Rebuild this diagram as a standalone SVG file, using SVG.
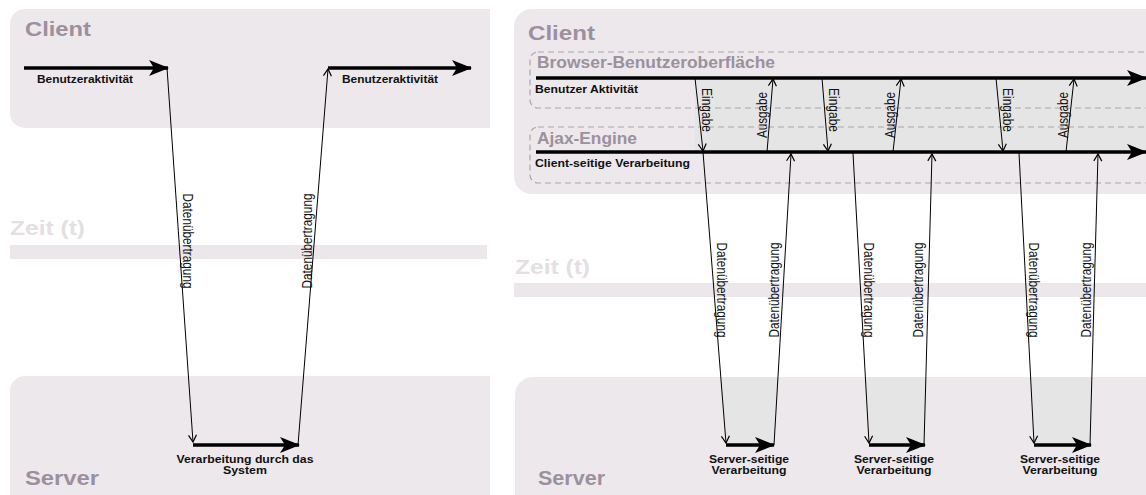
<svg xmlns="http://www.w3.org/2000/svg" width="1146" height="495" viewBox="0 0 1146 495">
<style>
.box{fill:#ece8ec}
.band{fill:#ebe7eb}
text{font-family:"Liberation Sans",Arial,sans-serif}
.hdr{font-weight:bold;font-size:21px;fill:#9b919d}
.sub{font-weight:bold;font-size:16px;fill:#9b919d}
.zeit{font-weight:bold;font-size:21px;fill:#e3dfe3}
.lbl{font-weight:bold;font-size:11.5px;fill:#111}
.rot{font-size:14px;fill:#111}
.dash{fill:none;stroke:#aaa6aa;stroke-width:1.2;stroke-dasharray:6 4}
.thick{stroke:#000;stroke-width:3.5;fill:none}
.thin{stroke:#000;stroke-width:1;fill:none}
.shade{fill:#e6e5e6}
</style>
<defs>
<marker id="big" markerUnits="userSpaceOnUse" markerWidth="20" markerHeight="16" refX="19" refY="8" orient="auto">
<path d="M0,0 L20,8 L0,16 L5,8 z" fill="#000"/>
</marker>
<marker id="sm" markerUnits="userSpaceOnUse" markerWidth="10" markerHeight="10" refX="8" refY="5" orient="auto">
<path d="M1,1 L8,5 L1,9" fill="none" stroke="#000" stroke-width="1.2"/>
</marker>
</defs>

<rect width="1146" height="495" fill="#fff"/>

<!-- Left panel -->
<g id="left-client">
<path class="box" d="M25,9 H490 V128 H25 A15,15 0 0 1 10,113 V24 A15,15 0 0 1 25,9 Z"/>
<text class="hdr" x="25" y="36" textLength="66" lengthAdjust="spacingAndGlyphs">Client</text>
<text class="lbl" x="37" y="83" textLength="96" lengthAdjust="spacingAndGlyphs">Benutzeraktivität</text>
<text class="lbl" x="342" y="83" textLength="96" lengthAdjust="spacingAndGlyphs">Benutzeraktivität</text>
</g>
<g id="left-time">
<rect class="band" x="10" y="245" width="477" height="14"/>
<text class="zeit" x="10" y="235" textLength="75" lengthAdjust="spacingAndGlyphs">Zeit (t)</text>
</g>
<g id="left-server">
<path class="box" d="M25,376 H490 V495 H10 V391 A15,15 0 0 1 25,376 Z"/>
<text class="hdr" x="25" y="485" textLength="74" lengthAdjust="spacingAndGlyphs">Server</text>
<text class="lbl" x="245" y="463" text-anchor="middle" textLength="137" lengthAdjust="spacingAndGlyphs">Verarbeitung durch das</text>
<text class="lbl" x="245" y="474" text-anchor="middle" textLength="44" lengthAdjust="spacingAndGlyphs">System</text>
</g>

<!-- Right panel -->
<g id="right-client">
<path class="box" d="M532,9 H1146 V194 H532 A18,18 0 0 1 514,176 V27 A18,18 0 0 1 532,9 Z"/>
<text class="hdr" x="528" y="40" textLength="67" lengthAdjust="spacingAndGlyphs">Client</text>
<rect class="shade" x="695" y="78" width="451" height="74"/>
</g>
<g id="browser-ui">
<rect class="dash" x="530" y="52" width="640" height="56" rx="8"/>
<text class="sub" x="537" y="68" textLength="238" lengthAdjust="spacingAndGlyphs">Browser-Benutzeroberfläche</text>
<text class="lbl" x="535" y="93" textLength="103" lengthAdjust="spacingAndGlyphs">Benutzer Aktivität</text>
</g>
<g id="ajax-engine">
<rect class="dash" x="530" y="127" width="640" height="56" rx="8"/>
<text class="sub" x="537" y="144" textLength="100" lengthAdjust="spacingAndGlyphs">Ajax-Engine</text>
<text class="lbl" x="535" y="167" textLength="155" lengthAdjust="spacingAndGlyphs">Client-seitige Verarbeitung</text>
</g>
<g id="right-time">
<rect class="band" x="514" y="283" width="632" height="14"/>
<text class="zeit" x="515" y="274" textLength="75" lengthAdjust="spacingAndGlyphs">Zeit (t)</text>
</g>
<g id="right-server">
<path class="box" d="M533,377 H1146 V495 H515 V395 A18,18 0 0 1 533,377 Z"/>
<polygon class="shade" points="721,377 778,377 774,445 726,445"/>
<polygon class="shade" points="865,377 926,377 924,445 869,445"/>
<polygon class="shade" points="1031,377 1092,377 1090,445 1034,445"/>
<text class="hdr" x="538" y="485" textLength="67" lengthAdjust="spacingAndGlyphs">Server</text>
<text class="lbl" x="749" y="463" text-anchor="middle" textLength="80" lengthAdjust="spacingAndGlyphs">Server-seitige</text>
<text class="lbl" x="749" y="474" text-anchor="middle" textLength="75" lengthAdjust="spacingAndGlyphs">Verarbeitung</text>
<text class="lbl" x="894" y="463" text-anchor="middle" textLength="80" lengthAdjust="spacingAndGlyphs">Server-seitige</text>
<text class="lbl" x="894" y="474" text-anchor="middle" textLength="75" lengthAdjust="spacingAndGlyphs">Verarbeitung</text>
<text class="lbl" x="1060" y="463" text-anchor="middle" textLength="80" lengthAdjust="spacingAndGlyphs">Server-seitige</text>
<text class="lbl" x="1060" y="474" text-anchor="middle" textLength="75" lengthAdjust="spacingAndGlyphs">Verarbeitung</text>
</g>

<g id="connectors">
<line class="thick" x1="24" y1="68" x2="168" y2="68" marker-end="url(#big)"/>
<line class="thin" x1="167" y1="68" x2="193" y2="442" marker-end="url(#sm)"/>
<line class="thick" x1="193" y1="445" x2="299" y2="445" stroke-width="4" marker-end="url(#big)"/>
<line class="thin" x1="298" y1="445" x2="328" y2="69" marker-end="url(#sm)"/>
<line class="thick" x1="328" y1="68" x2="471" y2="68" marker-end="url(#big)"/>
<line class="thick" x1="536" y1="78" x2="1146" y2="78" marker-end="url(#big)"/>
<line class="thick" x1="536" y1="152" x2="1146" y2="152" marker-end="url(#big)"/>
<line class="thin" x1="695" y1="78" x2="703" y2="151" marker-end="url(#sm)"/>
<line class="thin" x1="767" y1="152" x2="773" y2="79" marker-end="url(#sm)"/>
<line class="thin" x1="822" y1="78" x2="828" y2="151" marker-end="url(#sm)"/>
<line class="thin" x1="893" y1="152" x2="901" y2="79" marker-end="url(#sm)"/>
<line class="thin" x1="996" y1="78" x2="1003" y2="151" marker-end="url(#sm)"/>
<line class="thin" x1="1066" y1="152" x2="1074" y2="79" marker-end="url(#sm)"/>
<line class="thin" x1="703" y1="152" x2="726" y2="443" marker-end="url(#sm)"/>
<line class="thin" x1="774" y1="445" x2="791" y2="154" marker-end="url(#sm)"/>
<line class="thin" x1="853" y1="153" x2="869" y2="443" marker-end="url(#sm)"/>
<line class="thin" x1="924" y1="445" x2="932" y2="154" marker-end="url(#sm)"/>
<line class="thin" x1="1019" y1="153" x2="1034" y2="443" marker-end="url(#sm)"/>
<line class="thin" x1="1090" y1="445" x2="1098" y2="154" marker-end="url(#sm)"/>
<line class="thick" x1="726" y1="445" x2="774" y2="445" stroke-width="4" marker-end="url(#big)"/>
<line class="thick" x1="869" y1="445" x2="925" y2="445" stroke-width="4" marker-end="url(#big)"/>
<line class="thick" x1="1034" y1="445" x2="1091" y2="445" stroke-width="4" marker-end="url(#big)"/>
</g>

<g id="connector-labels">
<text class="rot" transform="translate(183,241) rotate(90)" text-anchor="middle" textLength="95" lengthAdjust="spacingAndGlyphs">Datenübertragung</text>
<text class="rot" transform="translate(312,241) rotate(-90)" text-anchor="middle" textLength="95" lengthAdjust="spacingAndGlyphs">Datenübertragung</text>
<text class="rot" transform="translate(702,110) rotate(90)" text-anchor="middle" textLength="44" lengthAdjust="spacingAndGlyphs">Eingabe</text>
<text class="rot" transform="translate(767,115) rotate(-90)" text-anchor="middle" textLength="46" lengthAdjust="spacingAndGlyphs">Ausgabe</text>
<text class="rot" transform="translate(829,110) rotate(90)" text-anchor="middle" textLength="44" lengthAdjust="spacingAndGlyphs">Eingabe</text>
<text class="rot" transform="translate(895,115) rotate(-90)" text-anchor="middle" textLength="46" lengthAdjust="spacingAndGlyphs">Ausgabe</text>
<text class="rot" transform="translate(1003,110) rotate(90)" text-anchor="middle" textLength="44" lengthAdjust="spacingAndGlyphs">Eingabe</text>
<text class="rot" transform="translate(1068,115) rotate(-90)" text-anchor="middle" textLength="46" lengthAdjust="spacingAndGlyphs">Ausgabe</text>
<text class="rot" transform="translate(717,290) rotate(90)" text-anchor="middle" textLength="95" lengthAdjust="spacingAndGlyphs">Datenübertragung</text>
<text class="rot" transform="translate(779,290) rotate(-90)" text-anchor="middle" textLength="95" lengthAdjust="spacingAndGlyphs">Datenübertragung</text>
<text class="rot" transform="translate(864,290) rotate(90)" text-anchor="middle" textLength="95" lengthAdjust="spacingAndGlyphs">Datenübertragung</text>
<text class="rot" transform="translate(923,290) rotate(-90)" text-anchor="middle" textLength="95" lengthAdjust="spacingAndGlyphs">Datenübertragung</text>
<text class="rot" transform="translate(1029,290) rotate(90)" text-anchor="middle" textLength="95" lengthAdjust="spacingAndGlyphs">Datenübertragung</text>
<text class="rot" transform="translate(1091,290) rotate(-90)" text-anchor="middle" textLength="95" lengthAdjust="spacingAndGlyphs">Datenübertragung</text>
</g>
</svg>
